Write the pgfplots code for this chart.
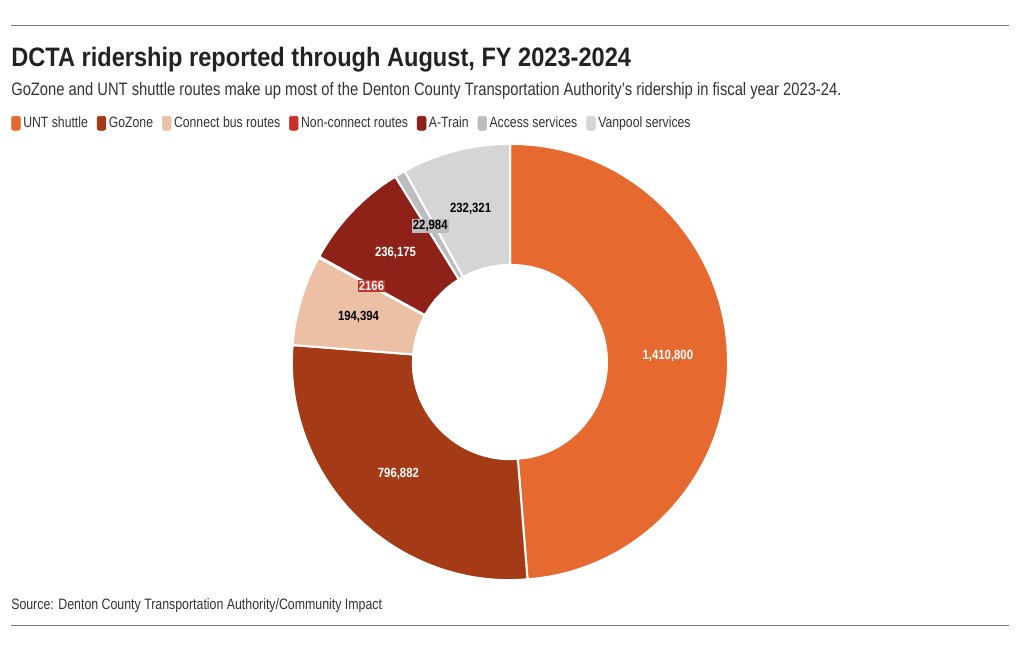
\documentclass[border=0pt]{standalone}
\usepackage{pgfplots}
\pgfplotsset{compat=1.18}
\usepackage{pgfplotstable}
\usepackage{fontspec}
\setmainfont{Liberation Sans}[FakeStretch=0.82]
\newfontfamily\titlefont{Liberation Sans}[FakeStretch=0.885]
\newfontfamily\labfont{Liberation Sans}[FakeStretch=0.85]
\usetikzlibrary{calc}

\definecolor{cUNT}{HTML}{E66A30}
\definecolor{cGo}{HTML}{A53B16}
\definecolor{cCon}{HTML}{EBC0A5}
\definecolor{cNon}{HTML}{C8322B}
\definecolor{cAT}{HTML}{8E2219}
\definecolor{cAcc}{HTML}{BDBDBD}
\definecolor{cVan}{HTML}{D4D5D4}
\definecolor{txt}{HTML}{222222}
\definecolor{txtb}{HTML}{333333}
\definecolor{rulec}{HTML}{7A7A7A}

\pgfplotstableread[col sep=semicolon]{
name;value;label
UNT shuttle;1410800;1,410,800
GoZone;796882;796,882
Connect bus routes;194394;194,394
Non-connect routes;2166;2166
A-Train;236175;236,175
Access services;22984;22,984
Vanpool services;232321;232,321
}\ridership

\newcommand\Ro{163.5pt}
\newcommand\Ri{72.75pt}

\newcommand\donutwedge[2]{%
  \fill[#2, draw=white, line width=1.5pt, rounded corners=1.5pt]
    ($(axis cs:0,0)+(\csname sA#1\endcsname:\Ro)$)
    arc[start angle=\csname sA#1\endcsname, end angle=\csname eA#1\endcsname, radius=\Ro]
    -- ($(axis cs:0,0)+(\csname eA#1\endcsname:\Ri)$)
    arc[start angle=\csname eA#1\endcsname, end angle=\csname sA#1\endcsname, radius=\Ri]
    -- cycle;}

\newcommand\donutlabel[2][]{%
  \node[font=\labfont\bfseries\fontsize{10}{11}\selectfont, inner sep=1pt, #1]
    at ($(axis cs:0,0)+(\csname mA#2\endcsname:118.5pt)$) {\csname lab#2\endcsname};}

\begin{document}
\begin{tikzpicture}
% cumulative angles computed from the table
\pgfplotstablegetrowsof{\ridership}
\pgfmathtruncatemacro\lastrow{\pgfplotsretval-1}
\gdef\total{0}
\foreach \i in {0,...,\lastrow}{%
  \pgfplotstablegetelem{\i}{value}\of\ridership
  \xdef\total{\fpeval{\total+\pgfplotsretval}}}
\gdef\cum{0}
\foreach \i in {0,...,\lastrow}{%
  \pgfplotstablegetelem{\i}{value}\of\ridership
  \edef\v{\pgfplotsretval}%
  \expandafter\xdef\csname sA\i\endcsname{\fpeval{round(90-360*\cum/\total,4)}}%
  \xdef\cum{\fpeval{\cum+\v}}%
  \expandafter\xdef\csname eA\i\endcsname{\fpeval{round(90-360*\cum/\total,4)}}%
  \expandafter\xdef\csname mA\i\endcsname{\fpeval{round(90-360*(\cum-\v/2)/\total,4)}}%
  \pgfplotstablegetelem{\i}{label}\of\ridership
  \expandafter\xdef\csname lab\i\endcsname{\pgfplotsretval}%
}
\path[use as bounding box] (0,0) rectangle (765pt,-487.5pt);
\draw[rulec, line width=0.75pt] (8.25pt,-18.75pt) -- (756.75pt,-18.75pt);
\draw[rulec, line width=0.75pt] (8.25pt,-468.75pt) -- (756.75pt,-468.75pt);
\node[anchor=base west, inner sep=0pt, text=txt, font=\titlefont\bfseries\fontsize{20}{24}\selectfont]
  at (8.25pt,-50pt) {DCTA ridership reported through August, FY 2023-2024};
\node[anchor=base west, inner sep=0pt, text=txtb, font=\fontsize{13.5}{16}\selectfont]
  at (8.25pt,-71.8pt) {GoZone and UNT shuttle routes make up most of the Denton County Transportation Authority's ridership in fiscal year 2023-24.};
\node[anchor=base west, inner sep=0pt, text=txtb, font=\fontsize{11.3}{13}\selectfont]
  at (8.25pt,-456.75pt) {Source: Denton County Transportation Authority/Community Impact};

\begin{axis}[
  at={(382.5pt,-271.5pt)}, anchor=origin,
  hide axis, scale only axis, width=327pt, height=327pt,
  xmin=-1, xmax=1, ymin=-1, ymax=1, clip=false,
  legend columns=-1,
  legend image code/.code={\fill[#1, rounded corners=1.5pt] (0pt,-5.25pt) rectangle (6.6pt,5.25pt);},
  legend style={at={(-0.6445,1.069)}, anchor=north west, draw=none, fill=none,
    inner sep=0pt, font=\fontsize{11.2}{13}\selectfont, text=txtb,
    nodes={inner sep=2pt},
    /tikz/every even column/.append style={column sep=4.7pt}},
]
\addlegendimage{cUNT}\addlegendentry{UNT shuttle}
\addlegendimage{cGo}\addlegendentry{GoZone}
\addlegendimage{cCon}\addlegendentry{Connect bus routes}
\addlegendimage{cNon}\addlegendentry{Non-connect routes}
\addlegendimage{cAT}\addlegendentry{A-Train}
\addlegendimage{cAcc}\addlegendentry{Access services}
\addlegendimage{cVan}\addlegendentry{Vanpool services}

\donutwedge{0}{cUNT}
\donutwedge{1}{cGo}
\donutwedge{2}{cCon}
\donutwedge{3}{cNon}
\donutwedge{4}{cAT}
\donutwedge{5}{cAcc}
\donutwedge{6}{cVan}

\donutlabel[text=white]{0}
\donutlabel[text=white]{1}
\donutlabel[text=black]{2}
\donutlabel[text=white, fill=cNon]{3}
\donutlabel[text=white]{4}
\donutlabel[text=black, fill=cAcc]{5}
\donutlabel[text=black]{6}
\end{axis}
\end{tikzpicture}
\end{document}
